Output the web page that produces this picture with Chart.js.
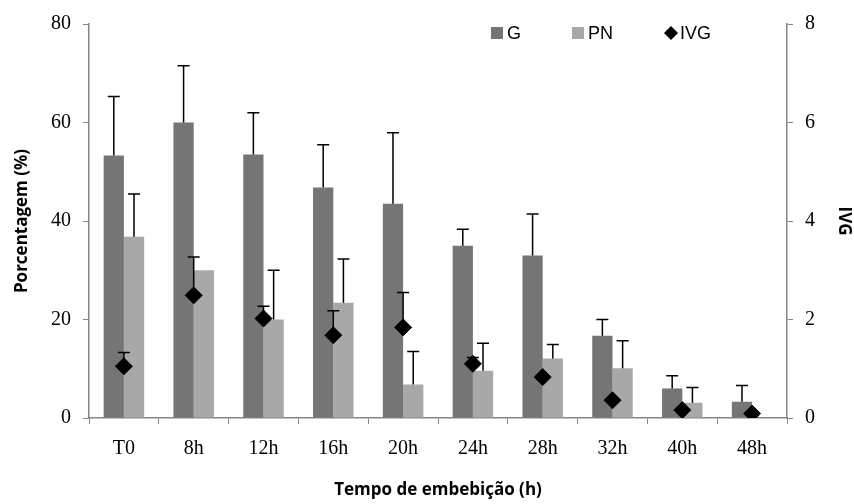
<!DOCTYPE html>
<html>
<head>
<meta charset="utf-8">
<script src="https://cdn.jsdelivr.net/npm/chart.js@4"></script>
<style>
  html, body { margin: 0; padding: 0; background: #fff; }
  #wrap { width: 854px; height: 504px; }
</style>
</head>
<body>
<div id="wrap"><canvas id="chart"></canvas></div>
<script>
// data
const categories = ['T0', '8h', '12h', '16h', '20h', '24h', '28h', '32h', '40h', '48h'];
const gValues   = [53.3, 60.0, 53.5, 46.8, 43.5, 35.0, 33.0, 16.7, 6.0, 3.3];
const gErrors   = [12.0, 11.5, 8.5, 8.7, 14.4, 3.3, 8.4, 3.3, 2.6, 3.3];
const pnValues  = [36.8, 30.0, 20.0, 23.4, 6.8, 9.6, 12.1, 10.1, 3.1, 0];
const pnErrors  = [8.7, 0, 10.0, 8.9, 6.7, 5.6, 2.8, 5.6, 3.1, 0];
const ivgValues = [1.05, 2.49, 2.02, 1.68, 1.84, 1.10, 0.83, 0.36, 0.16, 0.09];
const ivgErrors = [0.28, 0.78, 0.25, 0.50, 0.71, 0.13, 0, 0, 0, 0];
const leftTicks  = [0, 20, 40, 60, 80];
const rightTicks = [0, 2, 4, 6, 8];

const axisColor = '#868686';
const tickFont = { family: 'Liberation Serif', size: 20 };
const titleFont = { family: 'Open Sans', size: 17, weight: 'bold' };

// upward error bars, drawn from each element through its own y scale
const errorBars = {
    id: 'errorBars',
    afterDatasetsDraw(chart) {
        const ctx = chart.ctx;
        ctx.save();
        ctx.strokeStyle = '#000';
        ctx.lineWidth = 1.5;
        chart.data.datasets.forEach((ds, di) => {
            if (!ds.errors) return;
            const meta = chart.getDatasetMeta(di);
            const scale = chart.scales[meta.yAxisID];
            meta.data.forEach((el, i) => {
                const err = ds.errors[i];
                if (!err) return;
                const yTop = scale.getPixelForValue(ds.data[i] + err);
                ctx.beginPath();
                ctx.moveTo(el.x, el.y);
                ctx.lineTo(el.x, yTop);
                ctx.moveTo(el.x - 6, yTop);
                ctx.lineTo(el.x + 6, yTop);
                ctx.stroke();
            });
        });
        ctx.restore();
    }
};

// legend in the upper right, like the original
const customLegend = {
    id: 'customLegend',
    afterDraw(chart) {
        const ctx = chart.ctx;
        const xs = [491, 572, 664];
        const y = 33;
        ctx.save();
        ctx.font = '18px "Liberation Sans"';
        ctx.textBaseline = 'middle';
        chart.data.datasets.forEach((ds, i) => {
            const x = xs[i];
            if (ds.type === 'line') {
                ctx.beginPath();
                ctx.moveTo(x + 7, y - 7);
                ctx.lineTo(x + 14, y);
                ctx.lineTo(x + 7, y + 7);
                ctx.lineTo(x, y);
                ctx.closePath();
                ctx.fillStyle = '#000';
                ctx.fill();
            } else {
                ctx.fillStyle = ds.backgroundColor;
                ctx.fillRect(x, y - 6, 12, 12);
            }
            ctx.fillStyle = '#000';
            ctx.fillText(ds.label, x + 16, y + 1);
        });
        ctx.restore();
    }
};

new Chart(document.getElementById('chart'), {
    type: 'bar',
    data: {
        labels: categories,
        datasets: [
            { label: 'G', data: gValues, errors: gErrors, backgroundColor: '#757575',
              yAxisID: 'y', order: 2, categoryPercentage: 0.58, barPercentage: 1.0 },
            { label: 'PN', data: pnValues, errors: pnErrors, backgroundColor: '#a8a8a8',
              yAxisID: 'y', order: 2, categoryPercentage: 0.58, barPercentage: 1.0 },
            { type: 'line', label: 'IVG', data: ivgValues, errors: ivgErrors, yAxisID: 'y1',
              showLine: false, pointStyle: 'rectRot', pointRadius: 8.5, pointBackgroundColor: '#000',
              pointBorderColor: '#000', order: 0 }
        ]
    },
    options: {
        responsive: true,
        maintainAspectRatio: false,
        animation: false,
        layout: { padding: { top: 19, left: 0, right: 0, bottom: 0 } },
        plugins: { legend: { display: false }, tooltip: { enabled: false } },
        scales: {
            x: {
                offset: true,
                grid: { offset: true, drawOnChartArea: false, color: axisColor, tickLength: 6 },
                border: { color: axisColor, width: 1.5 },
                ticks: { color: '#000', font: tickFont, padding: 13, maxRotation: 0 },
                title: { display: true, text: 'Tempo de embebição (h)', color: '#000', font: titleFont,
                         padding: { top: 0, bottom: 4 } },
                afterFit(scale) { scale.height = 86; }
            },
            y: {
                position: 'left',
                min: 0, max: 80,
                afterBuildTicks(scale) { scale.ticks = leftTicks.map(v => ({ value: v })); },
                grid: { drawOnChartArea: false, color: axisColor, tickLength: 6 },
                border: { color: axisColor, width: 1.5 },
                ticks: { color: '#000', font: tickFont, padding: 12 },
                title: { display: true, text: 'Porcentagem (%)', color: '#000', font: titleFont,
                         padding: { top: 12, bottom: 0 } },
                afterFit(scale) { scale.width = 89; }
            },
            y1: {
                position: 'right',
                min: 0, max: 8,
                afterBuildTicks(scale) { scale.ticks = rightTicks.map(v => ({ value: v })); },
                grid: { drawOnChartArea: false, color: axisColor, tickLength: 6 },
                border: { color: axisColor, width: 1.5 },
                ticks: { color: '#000', font: tickFont, padding: 12 },
                title: { display: true, text: 'IVG', color: '#000', font: titleFont,
                         padding: { top: 0, bottom: 0 } },
                afterFit(scale) { scale.width = 67; }
            }
        }
    },
    plugins: [errorBars, customLegend]
});
</script>
</body>
</html>
